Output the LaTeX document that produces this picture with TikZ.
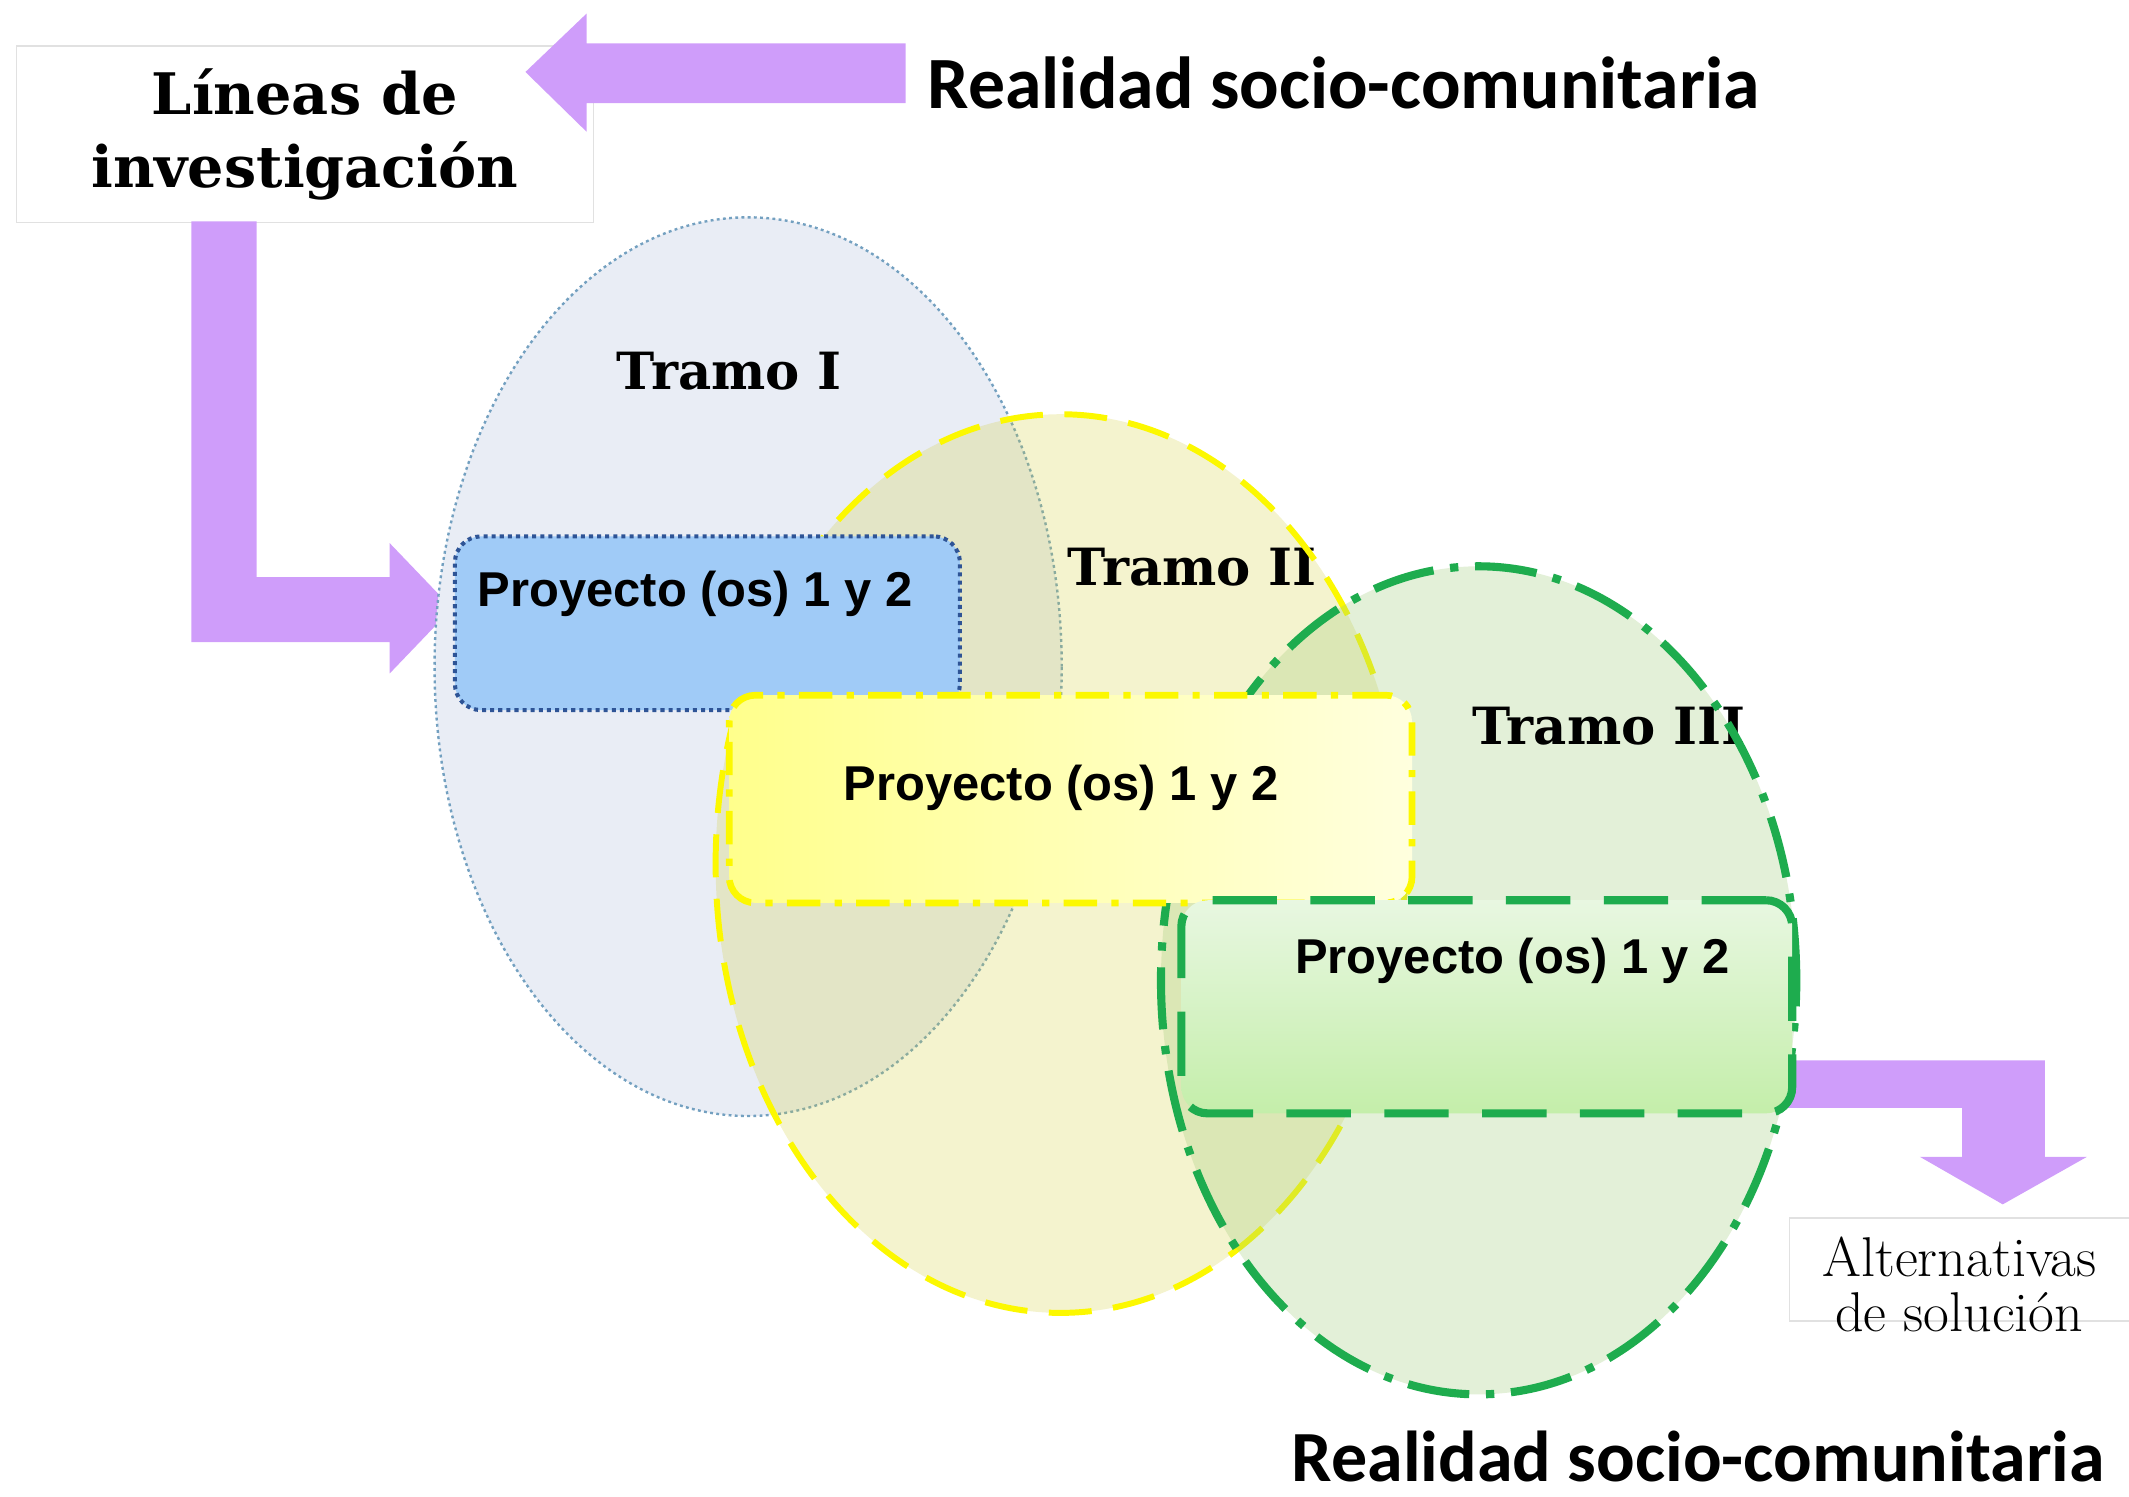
\documentclass[tikz,border=0pt]{standalone}
\usepackage{fontspec}
\newfontfamily\slabfont{DejaVu Serif}
\newfontfamily\calfont{Carlito}
\newfontfamily\arialfont{Liberation Sans}
\usetikzlibrary{calc}
\definecolor{arrowpurple}{RGB}{207,157,250}
\definecolor{ellIfill}{RGB}{233,237,245}
\definecolor{ellIdraw}{RGB}{115,160,192}
\definecolor{ellIIfill}{RGB}{210,206,60}
\definecolor{ellIIIfill}{RGB}{162,205,125}
\definecolor{yellowline}{RGB}{252,248,0}
\definecolor{greenline}{RGB}{30,172,78}
\definecolor{boxIfill}{RGB}{160,203,247}
\definecolor{boxIdraw}{RGB}{46,84,150}
\definecolor{boxIIleft}{RGB}{255,255,140}
\definecolor{boxIIright}{RGB}{255,255,222}
\definecolor{boxIIIa}{RGB}{232,247,225}
\definecolor{boxIIIb}{RGB}{196,238,170}
\definecolor{faintgray}{RGB}{225,225,225}
\begin{document}
\begin{tikzpicture}[x=0.02cm,y=-0.02cm,
  purplearrow/.style={fill=arrowpurple,draw=none},
  prjtext/.style={font=\arialfont\bfseries\fontsize{20.5}{24}\selectfont,inner sep=0pt},
  tramotext/.style={font=\slabfont\bfseries\fontsize{21.5}{24}\selectfont,inner sep=0pt},
  realtext/.style={font=\calfont\bfseries\fontsize{30.9}{36}\selectfont,inner sep=0pt,anchor=base west},
  plainbox/.style={draw=faintgray,fill=white,line width=0.6pt,inner sep=0pt,outer sep=0pt},
  prjbox/.style={rounded corners=11pt,inner sep=0pt,outer sep=0pt}
]
\useasboundingbox (0,0) rectangle (1568,1102);

% ----- title box and top arrow
\node[plainbox,minimum width=8.5cm,minimum height=2.6cm,
      font=\slabfont\bfseries\fontsize{24}{30.6}\selectfont,align=center]
      (lineas) at (224.5,99) {Líneas de\\investigación};
\node[realtext] (real1) at (683,80) {Realidad socio-comunitaria};
\fill[purplearrow] (387,53) -- (432,10) -- (432,32) -- (667,32) -- (667,76)
   -- (432,76) -- (432,97) -- cycle;

% ----- L arrow from title box to project 1
\fill[purplearrow] (141,163) -- (189,163) -- (189,425) -- (287,425) -- (287,400)
   -- (333,448) -- (287,496) -- (287,473) -- (141,473) -- cycle;

% ----- ellipses
\coordinate (cI) at (551,491);
\coordinate (cII) at (781,636);
\coordinate (cIII) at (1089,722);

\fill[ellIfill] (cI) ellipse [x radius=4.62cm,y radius=6.62cm];
\draw[ellIdraw,line width=1pt,dash pattern=on 1.2pt off 1.4pt] (cI) ellipse [x radius=4.62cm,y radius=6.62cm];
\node[tramotext] (tramo1) at (537,273) {Tramo I};

\fill[ellIIfill,fill opacity=0.25] (cII) ellipse [x radius=5.08cm,y radius=6.62cm];
\node[tramotext] (tramo2) at (878,418) {Tramo II};
\draw[yellowline,line width=2.5pt,dash pattern=on 18pt off 9pt] (cII) ellipse [x radius=5.08cm,y radius=6.62cm];

\fill[ellIIIfill,fill opacity=0.3] (cIII) ellipse [x radius=4.68cm,y radius=6.1cm];
\node[tramotext] (tramo3) at (1185,535) {Tramo III};
\draw[greenline,line width=3.4pt,dash pattern=on 26pt off 7pt on 3.5pt off 7pt] (cIII) ellipse [x radius=4.68cm,y radius=6.1cm];

% ----- right arrow to alternatives
\fill[purplearrow] (1300,781) -- (1506,781) -- (1506,852) -- (1537,852) -- (1475,887)
   -- (1414,852) -- (1445,852) -- (1445,816) -- (1300,816) -- cycle;

% ----- project boxes
\node[prjbox,draw=boxIdraw,fill=boxIfill,line width=1.7pt,dash pattern=on 1.7pt off 1.7pt,
      minimum width=7.44cm,minimum height=2.56cm] (p1) at (521,459) {};
\node[prjtext] (p1t) at (512,437) {Proyecto (os) 1 y 2};

\node[prjbox,draw=yellowline,left color=boxIIleft,right color=boxIIright,line width=2.8pt,
      dash pattern=on 14pt off 6pt on 3pt off 6pt,
      minimum width=10.06cm,minimum height=3.06cm] (p2) at (788.5,588.5) {};
\node[prjtext] (p2t) at (781.5,580) {Proyecto (os) 1 y 2};

\node[prjbox,draw=greenline,top color=boxIIIa,bottom color=boxIIIb,
      line width=3.4pt,dash pattern=on 27pt off 14pt,
      minimum width=9.0cm,minimum height=3.14cm] (p3) at (1095,741.5) {};
\node[prjtext] (p3t) at (1114,708) {Proyecto (os) 1 y 2};

% ----- alternatives box
\node[plainbox,minimum width=5.8cm,minimum height=1.52cm] (alt) at (1463,935) {};
\node[font=\rmfamily\fontsize{23.5}{23.2}\selectfont,align=center,inner sep=0pt]
      (altt) at (1443,946) {Alternativas\\de solución};

% ----- bottom text
\node[realtext,font=\calfont\bfseries\fontsize{30.2}{36}\selectfont,text depth=0pt]
      (real2) at (951,1091) {Realidad socio-comunitaria};
\end{tikzpicture}
\end{document}
